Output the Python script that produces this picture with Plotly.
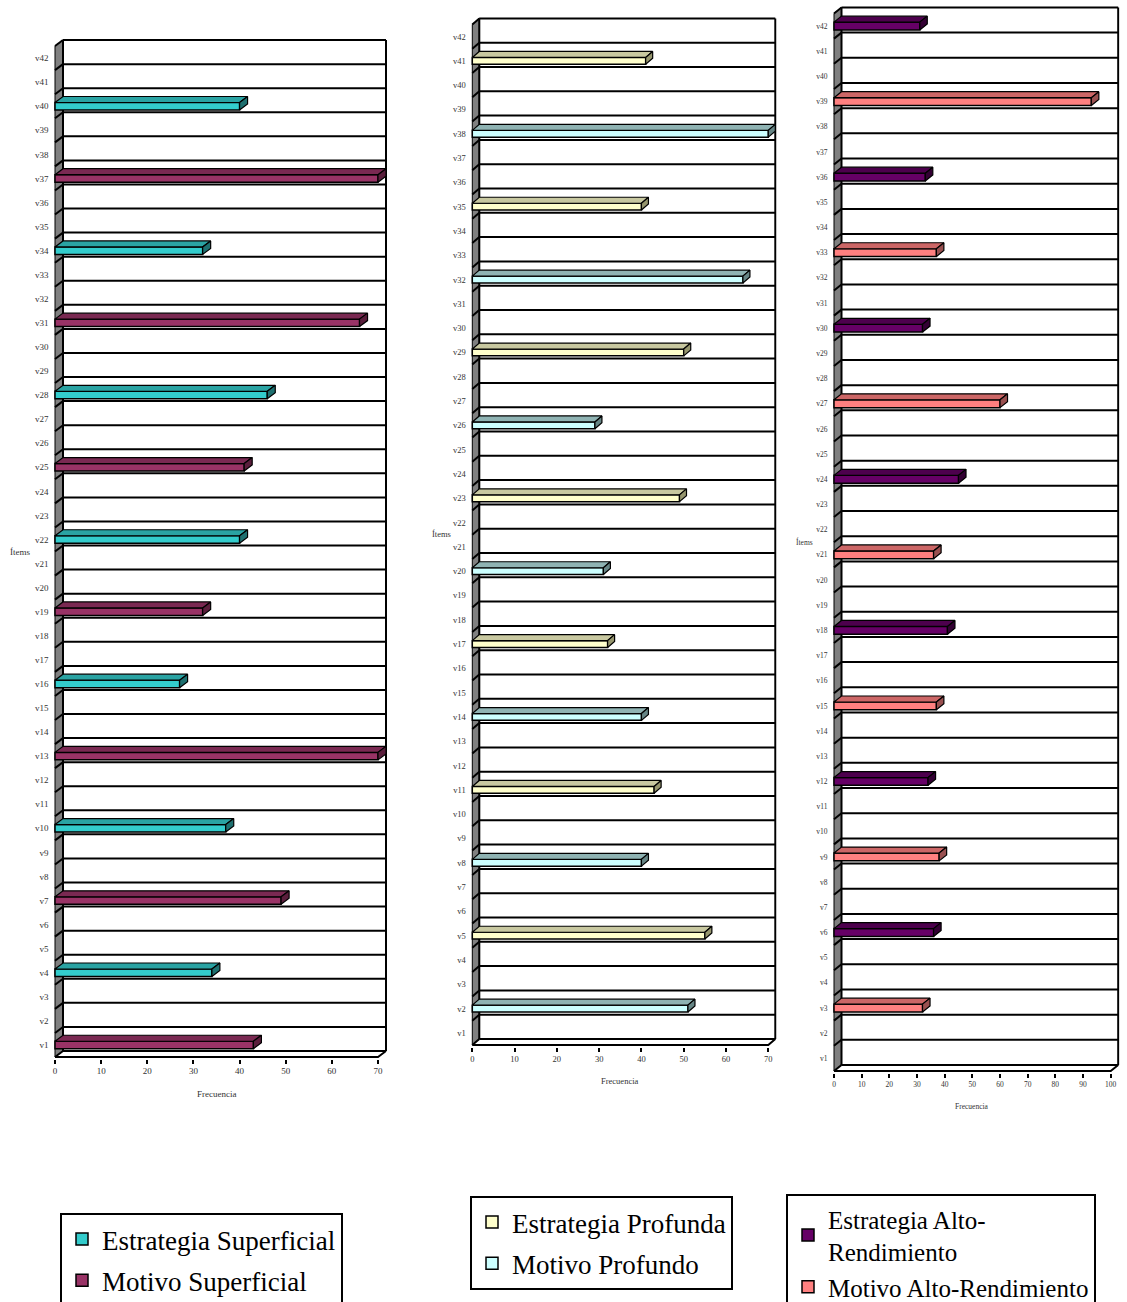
import plotly.graph_objects as go

# ---------------- data ----------------
items = [f"v{i}" for i in range(1, 43)]          # category labels (v1 ... v42)
freq_ticks_70 = [0, 10, 20, 30, 40, 50, 60, 70]
freq_ticks_100 = [0, 10, 20, 30, 40, 50, 60, 70, 80, 90, 100]

# Panel 1 - Superficial
est_sup_items = ["v4", "v10", "v16", "v22", "v28", "v34", "v40"]
est_sup_vals = [34, 37, 27, 40, 46, 32, 40]
mot_sup_items = ["v1", "v7", "v13", "v19", "v25", "v31", "v37"]
mot_sup_vals = [43, 49, 70, 32, 41, 66, 70]

# Panel 2 - Profundo
est_prof_items = ["v5", "v11", "v17", "v23", "v29", "v35", "v41"]
est_prof_vals = [55, 43, 32, 49, 50, 40, 41]
mot_prof_items = ["v2", "v8", "v14", "v20", "v26", "v32", "v38"]
mot_prof_vals = [51, 40, 40, 31, 29, 64, 70]

# Panel 3 - Alto-Rendimiento
est_ar_items = ["v6", "v12", "v18", "v24", "v30", "v36", "v42"]
est_ar_vals = [36, 34, 41, 45, 32, 33, 31]
mot_ar_items = ["v3", "v9", "v15", "v21", "v27", "v33", "v39"]
mot_ar_vals = [32, 38, 37, 36, 60, 37, 93]

x_title = "Frecuencia"
y_title = "Ítems"

# ---------------- styling / layout ----------------
FONT = "Liberation Serif"
W, H = 1127, 1302

panels = [
    dict(series=[
            dict(name="Estrategia Superficial", items=est_sup_items, vals=est_sup_vals,
                 front="#33CCCC", top="#2AA3A3", side="#1E7070"),
            dict(name="Motivo Superficial", items=mot_sup_items, vals=mot_sup_vals,
                 front="#993366", top="#7A2952", side="#5A1E3C")],
         xmax=70, ticks=freq_ticks_70, x0px=55.0, xendpx=378.0, ybotpx=1057.0, band=24.07,
         dxpx=8.0, dypx=6.0, bw=0.31, lab=9, ticklab=9, ttl=9,
         items_pos=(20, 552), frec_pos=(216, 1094),
         legend_pos=(60, 1213), legend_font=27, legend_gap=3),
    dict(series=[
            dict(name="Estrategia Profunda", items=est_prof_items, vals=est_prof_vals,
                 front="#FFFFCC", top="#C8C8A0", side="#96966E"),
            dict(name="Motivo Profundo", items=mot_prof_items, vals=mot_prof_vals,
                 front="#CCFFFF", top="#8FB3B3", side="#668585")],
         xmax=70, ticks=freq_ticks_70, x0px=472.3, xendpx=768.3, ybotpx=1045.0, band=24.3,
         dxpx=7.0, dypx=6.0, bw=0.28, lab=8.5, ticklab=8.5, ttl=8.5,
         items_pos=(441, 534), frec_pos=(620, 1081),
         legend_pos=(470, 1196), legend_font=27, legend_gap=3),
    dict(series=[
            dict(name="Estrategia Alto-<br>Rendimiento", items=est_ar_items, vals=est_ar_vals,
                 front="#660066", top="#4D004D", side="#330033"),
            dict(name="Motivo Alto-Rendimiento", items=mot_ar_items, vals=mot_ar_vals,
                 front="#FF8080", top="#CC6666", side="#995050")],
         xmax=100, ticks=freq_ticks_100, x0px=834.0, xendpx=1110.7, ybotpx=1071.0, band=25.18,
         dxpx=7.5, dypx=6.0, bw=0.31, lab=7.5, ticklab=7.5, ttl=7.5,
         items_pos=(804, 542), frec_pos=(972, 1106),
         legend_pos=(786, 1194), legend_font=25, legend_gap=0),
]

fig = go.Figure()
shapes = []
annotations = []
layout = {}
n = len(items)

for k, P in enumerate(panels, start=1):
    xa = "x" if k == 1 else f"x{k}"
    ya = "y" if k == 1 else f"y{k}"
    xkey = "xaxis" if k == 1 else f"xaxis{k}"
    ykey = "yaxis" if k == 1 else f"yaxis{k}"
    okey = f"yaxis{k + 3}"
    lkey = "legend" if k == 1 else f"legend{k}"

    sx = (P["xendpx"] - P["x0px"]) / P["xmax"]
    sy = P["band"]
    dx = P["dxpx"] / sx
    dy = P["dypx"] / sy
    ex = 1.5 / sx
    ey = 1.5 / sy
    xr = [-ex, P["xmax"] + dx + ex]
    yr = [-0.5 - ey, n - 0.5 + dy + ey]
    left_px = P["x0px"] + xr[0] * sx
    right_px = P["x0px"] + xr[1] * sx
    bot_px = P["ybotpx"] + ey * sy
    top_px = P["ybotpx"] - (yr[1] + 0.5) * sy

    layout[xkey] = dict(domain=[left_px / W, right_px / W], range=xr, anchor=ya,
                        showgrid=False, zeroline=False, showline=False,
                        tickmode="array", tickvals=P["ticks"], ticks="outside",
                        ticklen=4, tickwidth=1.5, tickcolor="black",
                        tickfont=dict(family=FONT, size=P["ticklab"], color="#333333"),
                        fixedrange=True)
    layout[ykey] = dict(domain=[1 - bot_px / H, 1 - top_px / H], range=yr, anchor=xa,
                        showgrid=False, zeroline=False, showline=False,
                        tickmode="array", tickvals=list(range(n)), ticktext=items,
                        ticks="", ticklabelstandoff=4,
                        tickfont=dict(family=FONT, size=P["lab"], color="#333333"),
                        fixedrange=True)
    layout[okey] = dict(overlaying=ya, anchor=xa, side="left", range=yr,
                        showgrid=False, zeroline=False, showline=False,
                        tickmode="array", tickvals=[i - 0.5 for i in range(n + 1)],
                        ticks="outside", ticklen=6, tickwidth=2, tickcolor="black",
                        showticklabels=False, fixedrange=True)

    # ---- 3D frame: left wall, back-wall gridlines, floor ----
    X = P["xmax"]
    base = dict(xref=xa, yref=ya, layer="below")
    shapes.append(dict(type="path", **base,
                       path=f"M 0 -0.5 L 0 {n - 0.5} L {dx} {n - 0.5 + dy} L {dx} {-0.5 + dy} Z",
                       fillcolor="#808080", line=dict(color="black", width=1)))
    for i in range(n + 1):
        b = i - 0.5
        shapes.append(dict(type="line", **base, x0=0, y0=b, x1=dx, y1=b + dy,
                           line=dict(color="black", width=2)))
        shapes.append(dict(type="line", **base, x0=dx, y0=b + dy, x1=X + dx, y1=b + dy,
                           line=dict(color="black", width=2)))
    shapes.append(dict(type="line", **base, x0=dx, y0=-0.5 + dy, x1=dx, y1=n - 0.5 + dy,
                       line=dict(color="black", width=2)))
    shapes.append(dict(type="line", **base, x0=X + dx, y0=-0.5 + dy, x1=X + dx, y1=n - 0.5 + dy,
                       line=dict(color="black", width=2)))
    shapes.append(dict(type="path", **base,
                       path=f"M 0 -0.5 L {X} -0.5 L {X + dx} {-0.5 + dy}",
                       line=dict(color="black", width=2)))

    # ---- bars (front faces) ----
    bw = P["bw"]
    for j, S in enumerate(P["series"]):
        pos = [items.index(it) for it in S["items"]]
        fig.add_trace(go.Bar(
            x=S["vals"], y=pos, orientation="h", width=bw, base=0,
            name=S["name"], legend=lkey, legendgroup=f"g{k}{j}",
            marker=dict(color=S["front"], line=dict(color="black", width=1.5)),
            xaxis=xa, yaxis=ya, hovertemplate="%{y}: %{x}<extra></extra>"))
    # ---- 3D top and side faces, computed from the same values ----
    for j, S in enumerate(P["series"]):
        pos = [items.index(it) for it in S["items"]]
        tx, ty, sxs, sys_ = [], [], [], []
        for c, v in zip(pos, S["vals"]):
            t = c + bw / 2
            bo = c - bw / 2
            tx += [0, v, v + dx, dx, 0, None]
            ty += [t, t, t + dy, t + dy, t, None]
            sxs += [v, v + dx, v + dx, v, v, None]
            sys_ += [bo, bo + dy, t + dy, t, bo, None]
        fig.add_trace(go.Scatter(x=tx, y=ty, mode="lines", fill="toself",
                                 fillcolor=S["top"], line=dict(color="black", width=1.2),
                                 xaxis=xa, yaxis=ya, showlegend=False, hoverinfo="skip"))
        fig.add_trace(go.Scatter(x=sxs, y=sys_, mode="lines", fill="toself",
                                 fillcolor=S["side"], line=dict(color="black", width=1.2),
                                 xaxis=xa, yaxis=ya, showlegend=False, hoverinfo="skip"))

    # ---- axis titles ----
    annotations.append(dict(text=y_title, x=P["items_pos"][0] / W, y=1 - P["items_pos"][1] / H,
                            xref="paper", yref="paper", showarrow=False,
                            xanchor="center", yanchor="middle",
                            font=dict(family=FONT, size=P["ttl"], color="#333333")))
    annotations.append(dict(text=x_title, x=P["frec_pos"][0] / W, y=1 - P["frec_pos"][1] / H,
                            xref="paper", yref="paper", showarrow=False,
                            xanchor="center", yanchor="middle",
                            font=dict(family=FONT, size=P["ttl"], color="#333333")))

    # ---- legend ----
    layout[lkey] = dict(x=P["legend_pos"][0] / W, y=1 - P["legend_pos"][1] / H,
                        xanchor="left", yanchor="top", bgcolor="white",
                        bordercolor="black", borderwidth=2,
                        font=dict(family=FONT, size=P["legend_font"], color="black"),
                        traceorder="grouped", tracegroupgap=P["legend_gap"], itemwidth=30)

fig.update_layout(**layout)
fig.update_layout(width=W, height=H,
                  margin=dict(l=0, r=0, t=0, b=0, autoexpand=False),
                  paper_bgcolor="white", plot_bgcolor="white",
                  barmode="overlay", showlegend=True,
                  shapes=shapes, annotations=annotations)

fig.write_html("out.html", config={"displayModeBar": False},
               post_script="document.body.style.margin='0';document.documentElement.style.overflow='hidden';")
